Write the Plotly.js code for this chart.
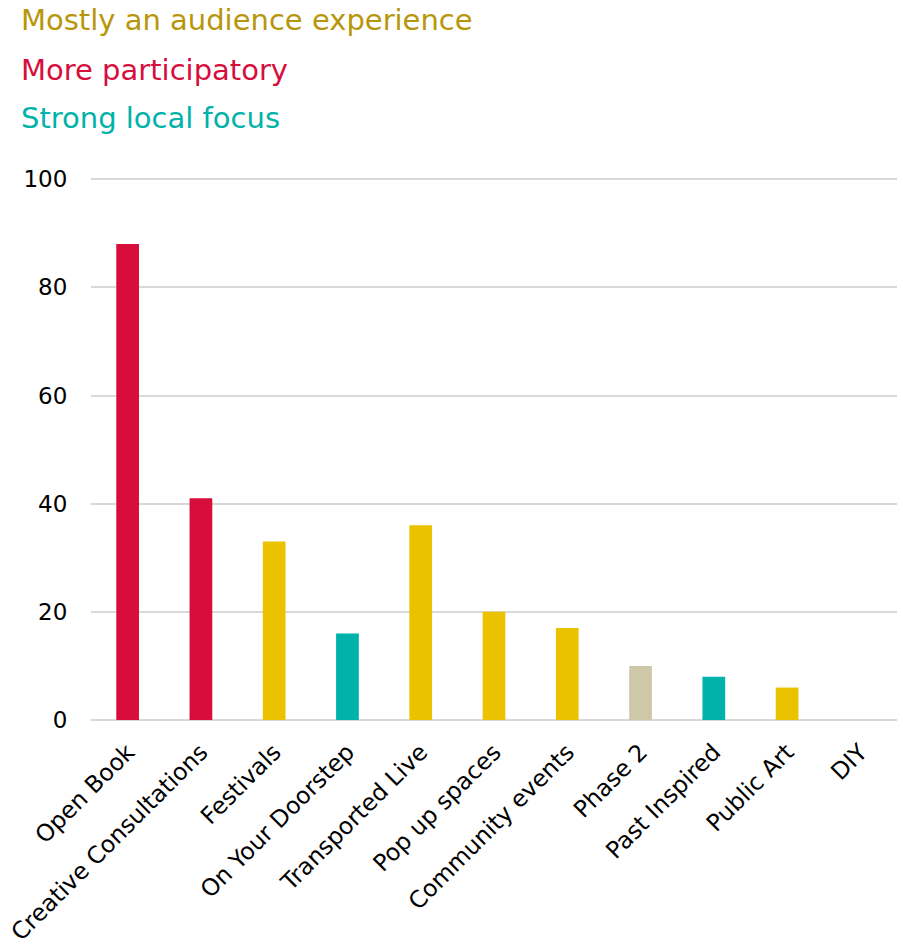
<!DOCTYPE html>
<html>
<head>
<meta charset="utf-8">
<script src="https://cdn.plot.ly/plotly-3.0.1.min.js"></script>
<style>html,body{margin:0;padding:0;background:#fff;}#chart{width:903px;height:945px;}</style>
</head>
<body>
<div id="chart"></div>
<script>
const categories = ["Open Book","Creative Consultations","Festivals","On Your Doorstep","Transported Live","Pop up spaces","Community events","Phase 2","Past Inspired","Public Art","DIY"];
const values = [88, 41, 33, 16, 36, 20, 17, 10, 8, 6, 0];
const groups = ["participatory","participatory","audience","local","audience","audience","audience","other","local","audience","audience"];
const legendLabels = ["Mostly an audience experience","More participatory","Strong local focus"];
const legendKeys = ["audience","participatory","local"];
const yTicks = [0, 20, 40, 60, 80, 100];

const barColors = {audience:"#EBC200", participatory:"#D70E3C", local:"#00B2AA", other:"#CFC8A8"};
const textColors = {audience:"#B8960C", participatory:"#D70E3C", local:"#00B2AA"};

const font = "DejaVu Sans, Verdana, sans-serif";
const W = 903, H = 945;
const m = {l:91, r:6, t:177, b:225};
const plotH = H - m.t - m.b;

const legendY = [20, 70, 118];
const annotations = legendLabels.map((t, i) => ({
  text: t, xref: "paper", yref: "paper",
  x: (19 - m.l) / (W - m.l - m.r), xanchor: "left",
  y: (H - m.b - legendY[i]) / plotH, yanchor: "middle",
  showarrow: false,
  font: {family: font, size: 29, color: textColors[legendKeys[i]]}
}));

const trace = {
  type: "bar",
  x: categories,
  y: values,
  marker: {color: groups.map(g => barColors[g])},
  hoverinfo: "x+y",
  showlegend: false
};

const layout = {
  width: W, height: H,
  margin: m,
  paper_bgcolor: "#fff", plot_bgcolor: "#fff",
  bargap: 0.69,
  font: {family: font, size: 23.5, color: "#000"},
  xaxis: {
    tickangle: -45, showgrid: false, zeroline: false, showline: false,
    ticks: "outside", ticklen: 8, tickcolor: "rgba(0,0,0,0)",
    tickfont: {family: font, size: 23.5, color: "#000"}
  },
  yaxis: {
    range: [0, 100.4], tickvals: yTicks, ticktext: yTicks.map(String),
    showgrid: true, gridcolor: "#d9d9d9", gridwidth: 2,
    zeroline: true, zerolinecolor: "#d9d9d9", zerolinewidth: 2,
    showline: false, ticks: "outside", ticklen: 18, tickcolor: "rgba(0,0,0,0)",
    tickfont: {family: font, size: 23, color: "#000"}
  },
  annotations: annotations
};

Plotly.newPlot("chart", [trace], layout, {displayModeBar: false, staticPlot: true});
</script>
</body>
</html>
